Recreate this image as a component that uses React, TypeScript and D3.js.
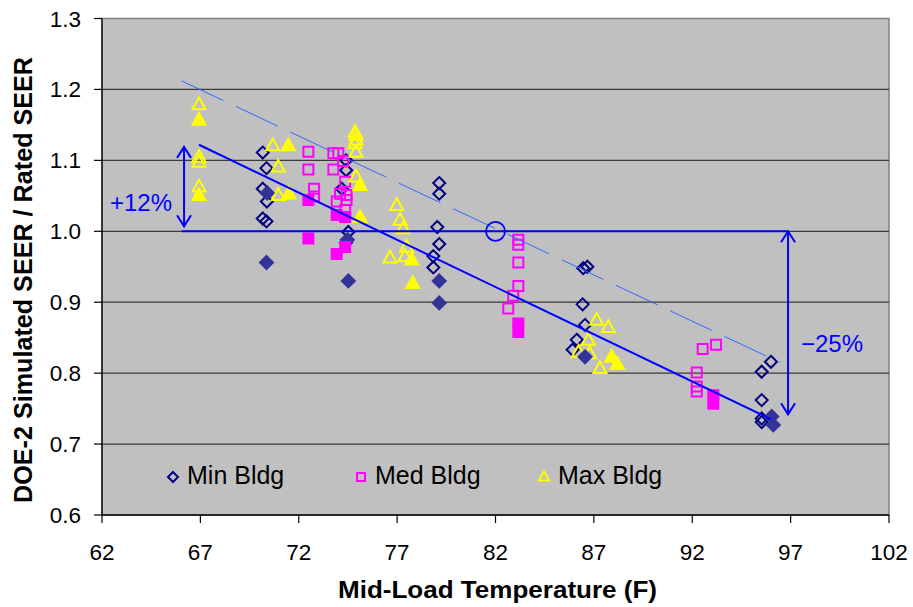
import React from 'react';
import * as d3 from 'd3';

const W = 913;
const H = 607;

// Axis ticks
const xTicks = [62, 67, 72, 77, 82, 87, 92, 97, 102];
const yTicks = [0.6, 0.7, 0.8, 0.9, 1.0, 1.1, 1.2, 1.3];

type Pt = [number, number];

// Min Bldg (open = main series, filled = companion series)
const minOpen: Pt[] = [
  [70.17, 1.111], [70.36, 1.089], [70.17, 1.06], [70.38, 1.042], [70.17, 1.018], [70.36, 1.014],
  [74.41, 1.1], [74.41, 1.086], [74.19, 1.06], [74.52, 0.999], [74.4, 0.984],
  [79.14, 1.068], [79.14, 1.053], [79.04, 1.006], [79.14, 0.982], [78.84, 0.965], [78.84, 0.949],
  [86.46, 0.948], [86.67, 0.95], [86.43, 0.897], [86.55, 0.868], [86.13, 0.847], [85.92, 0.833],
  [96.0, 0.816], [95.53, 0.802], [95.53, 0.762], [95.53, 0.736], [95.53, 0.731],
];
const minFilled: Pt[] = [
  [70.4, 1.054], [70.36, 0.956], [74.47, 0.988], [74.52, 0.93], [79.14, 0.93], [79.14, 0.899],
  [86.55, 0.823], [96.04, 0.739], [96.12, 0.727],
];

// Med Bldg
const medOpen: Pt[] = [
  [72.49, 1.112], [72.49, 1.087], [72.78, 1.06], [72.78, 1.049],
  [73.76, 1.11], [74.01, 1.11], [74.25, 1.099], [73.76, 1.087], [74.36, 1.07], [74.1, 1.053],
  [74.43, 1.051], [73.93, 1.042], [74.43, 1.044], [74.36, 1.03],
  [83.16, 0.988], [83.16, 0.981], [83.16, 0.956], [83.16, 0.923], [82.9, 0.909], [82.65, 0.891],
  [92.53, 0.834], [93.21, 0.84], [92.23, 0.801], [92.23, 0.781], [92.23, 0.774],
];
const medFilled: Pt[] = [
  [72.49, 1.044], [72.49, 0.99], [73.93, 1.023], [74.36, 1.02], [74.36, 0.978], [73.93, 0.968],
  [83.16, 0.87], [83.16, 0.858], [93.07, 0.769], [93.07, 0.757],
];

// Max Bldg
const maxOpen: Pt[] = [
  [66.93, 1.179], [66.93, 1.105], [66.93, 1.098], [66.93, 1.063],
  [70.68, 1.121], [70.96, 1.091], [70.96, 1.051],
  [74.86, 1.14], [74.91, 1.136], [74.91, 1.129], [74.86, 1.124], [74.91, 1.112], [74.91, 1.077],
  [76.98, 1.037], [77.15, 1.016], [77.31, 1.004], [77.48, 0.978], [76.64, 0.963], [77.4, 0.965],
  [87.14, 0.875], [87.73, 0.865], [86.72, 0.847], [86.22, 0.83], [86.78, 0.828], [87.31, 0.807],
];
const maxFilled: Pt[] = [
  [66.93, 1.157], [66.93, 1.051], [71.47, 1.121], [71.5, 1.053], [75.11, 1.065], [75.11, 1.02],
  [77.74, 0.96], [77.79, 0.927], [87.9, 0.823], [88.19, 0.813],
];

// Trend lines and annotations (data coordinates)
const fitLine: Pt[] = [[66.93, 1.122], [96.0, 0.735]];
const upperLine: Pt[] = [[66.05, 1.212], [96.46, 0.815]];
const baseLine: Pt[] = [[66.05, 1.0], [96.87, 1.0]];
const refPoint: Pt = [82, 1.0];
const upArrow = { x: 66.17, from: 1.007, to: 1.119, label: '+12%' };
const downArrow = { x: 96.87, from: 1.0, to: 0.742, label: '\u221225%' };

const legendItems = [
  { name: 'Min Bldg', shape: 'diamond', color: '#000080' },
  { name: 'Med Bldg', shape: 'square', color: '#FF00FF' },
  { name: 'Max Bldg', shape: 'triangle', color: '#FFFF00' },
];

const FONT = "'Liberation Sans', Arial, sans-serif";

const x = d3.scaleLinear().domain([62, 102]).range([102, 889]);
const y = d3.scaleLinear().domain([0.6, 1.3]).range([515, 18.5]);

function shapePath(shape: string, s: number): string {
  if (shape === 'diamond') return `M0,${-s}L${s},0L0,${s}L${-s},0Z`;
  if (shape === 'square') return `M${-s},${-s}H${s}V${s}H${-s}Z`;
  const h = s * 0.9;
  return `M0,${-h - 1}L${s},${h - 1}L${-s},${h - 1}Z`;
}

const Markers = ({ data, shape, color, filled, size }: { data: Pt[]; shape: string; color: string; filled: boolean; size: number }) => (
  <g>
    {data.map((d, i) => (
      <path
        key={i}
        transform={`translate(${x(d[0])},${y(d[1])})`}
        d={shapePath(shape, size)}
        fill={filled ? color : 'none'}
        stroke={color}
        strokeWidth={2}
      />
    ))}
  </g>
);

const Arrow = ({ xv, from, to, both }: { xv: number; from: number; to: number; both: boolean }) => {
  const px = x(xv);
  const y1 = y(from);
  const y2 = y(to);
  const dir = y2 > y1 ? 1 : -1;
  const head = (yy: number, d: number) => `M${px - 7},${yy - d * 11}L${px},${yy}L${px + 7},${yy - d * 11}`;
  return (
    <g stroke="#0000FF" strokeWidth={2} fill="none">
      <line x1={px} x2={px} y1={y1} y2={y2} />
      <path d={head(y2, dir)} />
      {both && <path d={head(y1, -dir)} />}
    </g>
  );
};

export default function App() {
  const line = d3.line<Pt>().x((d) => x(d[0])).y((d) => y(d[1]));
  const [x0, x1] = x.range();
  const [yb, yt] = y.range();
  return (
    <svg width={W} height={H} style={{ position: 'absolute', left: 0, top: 0, background: '#fff' }} fontFamily={FONT}>
      <rect x={x0} y={yt} width={x1 - x0} height={yb - yt} fill="#C0C0C0" stroke="#808080" strokeWidth={1.5} />
      {yTicks.slice(1, -1).map((t) => (
        <line key={t} x1={x0} x2={x1} y1={y(t)} y2={y(t)} stroke="#3a3a3a" strokeWidth={1.3} />
      ))}
      {/* axes */}
      <line x1={x0} x2={x0} y1={yt} y2={yb} stroke="#000" strokeWidth={1.3} />
      <line x1={x0} x2={x1} y1={yb} y2={yb} stroke="#000" strokeWidth={1.3} />
      {yTicks.map((t) => (
        <g key={t}>
          <line x1={x0 - 8} x2={x0} y1={y(t)} y2={y(t)} stroke="#000" strokeWidth={1.2} />
          <text x={81} y={y(t) + 8} textAnchor="end" fontSize={22.5} fill="#000">
            {t.toFixed(1)}
          </text>
        </g>
      ))}
      {xTicks.map((t) => (
        <g key={t}>
          <line x1={x(t)} x2={x(t)} y1={yb} y2={yb + 8} stroke="#000" strokeWidth={1.2} />
          <text x={x(t)} y={560} textAnchor="middle" fontSize={22.5} fill="#000">
            {t}
          </text>
        </g>
      ))}
      <text x={497.5} y={598} textAnchor="middle" fontSize={24} fontWeight="bold" textLength={319} lengthAdjust="spacingAndGlyphs">
        Mid-Load Temperature (F)
      </text>
      <text
        transform="translate(32,280) rotate(-90)"
        textAnchor="middle"
        fontSize={25}
        fontWeight="bold"
        textLength={446}
        lengthAdjust="spacingAndGlyphs"
      >
        DOE-2 Simulated SEER / Rated SEER
      </text>

      {/* data markers */}
      <Markers data={minOpen} shape="diamond" color="#000080" filled={false} size={6} />
      <Markers data={medOpen} shape="square" color="#FF00FF" filled={false} size={5} />
      <Markers data={maxOpen} shape="triangle" color="#FFFF00" filled={false} size={6.5} />
      <Markers data={minFilled} shape="diamond" color="#333399" filled={true} size={6.5} />
      <Markers data={medFilled} shape="square" color="#FF00FF" filled={true} size={5} />
      <Markers data={maxFilled} shape="triangle" color="#FFFF00" filled={true} size={6.5} />

      {/* trend lines */}
      <path d={line(upperLine) || ''} stroke="#3366FF" strokeWidth={1} strokeDasharray="46,14" fill="none" />
      <path d={line(fitLine) || ''} stroke="#0000FF" strokeWidth={2} fill="none" />
      <path d={line(baseLine) || ''} stroke="#0000FF" strokeWidth={2} fill="none" />
      <circle cx={x(refPoint[0])} cy={y(refPoint[1])} r={9.5} fill="none" stroke="#0000FF" strokeWidth={1.8} />

      <Arrow xv={upArrow.x} from={upArrow.from} to={upArrow.to} both={true} />
      <Arrow xv={downArrow.x} from={downArrow.from} to={downArrow.to} both={true} />
      <text x={110} y={211} fontSize={24} fill="#0000FF">{upArrow.label}</text>
      <text x={801} y={352} fontSize={24} fill="#0000FF">{downArrow.label}</text>

      {/* legend */}
      {legendItems.map((it, i) => {
        const mx = [173, 361, 544][i];
        return (
          <g key={it.name}>
            <path
              transform={`translate(${mx},${477})`}
              d={shapePath(it.shape, it.shape === 'square' ? 4 : 5)}
              fill="none"
              stroke={it.color}
              strokeWidth={2}
            />
            <text x={mx + 14} y={484} fontSize={25} fill="#000">{it.name}</text>
          </g>
        );
      })}
    </svg>
  );
}
